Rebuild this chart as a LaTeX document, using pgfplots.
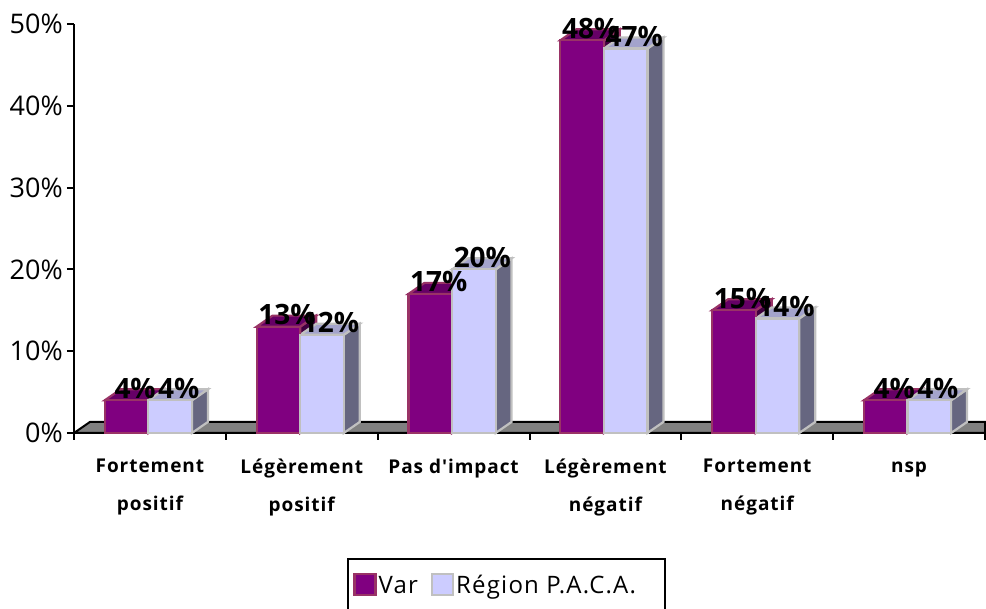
\documentclass[border=0pt]{standalone}
\usepackage{fontspec}
\setmainfont{Open Sans}
\newfontfamily\widefont[LetterSpace=5]{Open Sans}
\usepackage{pgfplots}
\usepackage{pgfplotstable}
\pgfplotsset{compat=1.18}

\definecolor{varfront}{HTML}{800080}
\definecolor{varedge}{HTML}{993366}
\definecolor{vartop}{HTML}{660066}
\definecolor{varside}{HTML}{400040}
\definecolor{pacafront}{HTML}{CCCCFF}
\definecolor{pacaedge}{HTML}{C0C0C0}
\definecolor{pacatop}{HTML}{A3A3CC}
\definecolor{pacaside}{HTML}{666680}

\pgfplotstableread{
x y
0 4
1 13
2 17
3 48
4 15
5 4
}\vardata
\pgfplotstableread{
x y
0 4
1 12
2 20
3 47
4 14
5 4
}\pacadata

% top and side faces: left x of bar, value, top colour, side colour, edge colour
\newcommand*\faces[5]{%
  \addplot[forget plot, fill=#4, draw=#5, line width=2.2pt] coordinates
    {({#1+0.287},0) ({#1+0.392},1.35) ({#1+0.392},{#2+1.35}) ({#1+0.287},#2)} -- cycle;
  \addplot[forget plot, fill=#3, draw=#5, line width=2.2pt] coordinates
    {(#1,#2) ({#1+0.105},{#2+1.35}) ({#1+0.392},{#2+1.35}) ({#1+0.287},#2)} -- cycle;
}

\pgfplotsset{
  swatch/.style={legend image code/.code={
    \draw[##1, line width=2.2pt] (0pt,-9.5pt) rectangle (21pt,11.5pt);
  }},
  valuelabel/.style={
    forget plot, only marks, mark=none,
    point meta=y,
    nodes near coords={\pgfmathprintnumber[assume math mode=true]{\pgfplotspointmeta}\%},
    nodes near coords style={
      font=\bfseries\fontsize{28}{30}\selectfont, text=black,
      anchor=center, inner sep=0pt, xshift=8.5pt, yshift=12pt
    }
  }
}

\begin{document}
\begin{tikzpicture}[x=1pt,y=1pt]
\useasboundingbox (0,0) rectangle (986,609);
\begin{axis}[
    at={(74pt,176pt)}, anchor=south west,
    width=911pt, height=409pt, scale only axis,
    xmin=-0.5, xmax=5.5, ymin=0, ymax=50,
    axis x line*=bottom, axis y line*=left,
    axis line style={line width=2pt, black},
    clip=false,
    ytick={0,10,20,30,40,50},
    yticklabels={0\%,10\%,20\%,30\%,40\%,50\%},
    yticklabel style={font=\fontsize{27}{30}\selectfont, inner sep=0pt, xshift=-4pt},
    xtick={-0.5,0.5,1.5,2.5,3.5,4.5,5.5},
    x tick label as interval,
    xticklabels={
      {Fortement\\positif},
      {Légèrement\\positif},
      {Pas d'impact},
      {Légèrement\\négatif},
      {Fortement\\négatif},
      {\vphantom{F}nsp}
    },
    xticklabel style={
      font=\widefont\bfseries\fontsize{19}{38}\selectfont,
      align=center, text depth=0pt, anchor=north, inner sep=0pt, yshift=-19pt
    },
    tick align=outside,
    major tick length=7pt,
    tick style={line width=2pt, black},
    legend style={
      at={(0.475,-0.372)}, anchor=center,
      draw=black, line width=2pt,
      font=\widefont\fontsize{24}{28}\selectfont,
      legend columns=2,
      /tikz/every even column/.append style={column sep=11pt},
      inner xsep=5pt, inner ysep=13.5pt
    },
]
% floor
\addplot[forget plot, fill=gray, draw=black, line width=2pt] coordinates
  {(-0.5,0) (-0.395,1.35) (5.5,1.35) (5.5,0)} -- cycle;

% var faces
\faces{-0.297}{4}{vartop}{varside}{varedge}
\faces{0.703}{13}{vartop}{varside}{varedge}
\faces{1.703}{17}{vartop}{varside}{varedge}
\faces{2.703}{48}{vartop}{varside}{varedge}
\faces{3.703}{15}{vartop}{varside}{varedge}
\faces{4.703}{4}{vartop}{varside}{varedge}
% region faces
\faces{-0.01}{4}{pacatop}{pacaside}{pacaedge}
\faces{0.99}{12}{pacatop}{pacaside}{pacaedge}
\faces{1.99}{20}{pacatop}{pacaside}{pacaedge}
\faces{2.99}{47}{pacatop}{pacaside}{pacaedge}
\faces{3.99}{14}{pacatop}{pacaside}{pacaedge}
\faces{4.99}{4}{pacatop}{pacaside}{pacaedge}

% fronts
\addplot[ybar, bar width=0.287, bar shift=-0.1535, fill=varfront, draw=varedge,
  line width=2.2pt, swatch] table[x=x,y=y] {\vardata};
\addlegendentry{Var}
\addplot[ybar, bar width=0.287, bar shift=0.1335, fill=pacafront, draw=pacaedge,
  line width=2.2pt, swatch] table[x=x,y=y] {\pacadata};
\addlegendentry{Région P.A.C.A.\rule{22pt}{0pt}}

% value labels go last, above every bar
\addplot[valuelabel] table[x expr=\thisrow{x}-0.1535, y=y] {\vardata};
\addplot[valuelabel] table[x expr=\thisrow{x}+0.1335, y=y] {\pacadata};
\end{axis}
\end{tikzpicture}
\end{document}
